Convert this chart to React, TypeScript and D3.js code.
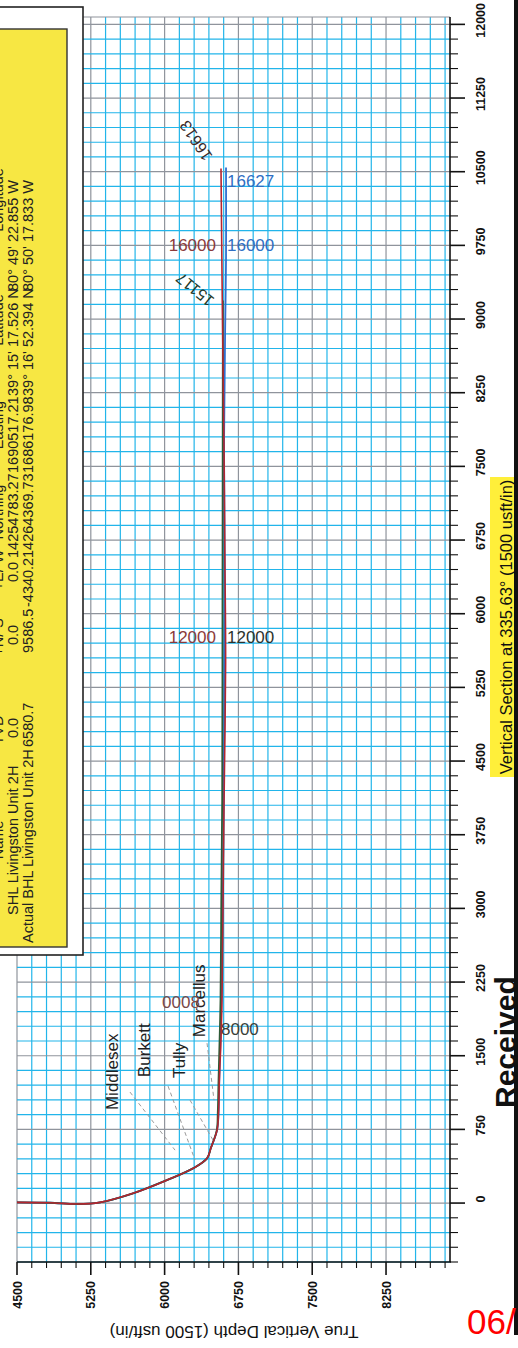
import React from "react";
import * as d3 from "d3";

// axis ticks
const tvdMajor = [4500, 5250, 6000, 6750, 7500, 8250];
const vsMajor = [0, 750, 1500, 2250, 3000, 3750, 4500, 5250, 6000, 6750, 7500, 8250, 9000, 9750, 10500, 11250, 12000];

// wellbore paths (TVD, vertical section)
const actualTvd = [4500, 4835, 5110, 5344, 5679, 6024, 6289, 6431, 6470, 6533, 6548, 6556, 6570, 6583, 6594, 6604, 6620, 6612, 6604, 6586, 6573];
const actualVs = [7, 3, -10, 7, 99, 234, 353, 455, 560, 743, 916, 1252, 1587, 2066, 3083, 4100, 5500, 6600, 7663, 9189, 10532];
const surveyTvd = [6530, 6540, 6548, 6568, 6576, 6585, 6588, 6590, 6592];
const surveyVs = [743, 916, 1252, 2066, 3083, 4100, 6053, 7663, 9189];
const planTvd = [6578, 6600, 6612, 6604, 6615, 6624, 6624];
const planVs = [2066, 4100, 6136, 7663, 8884, 9600, 10542];

// measured depth labels
const mdText = ["16627", "16000", "16000", "12000", "12000", "8000", "0008"];
const mdTvd = [6634, 6634, 6522, 6522, 6634, 6573, 5974];
const mdVs = [10349, 9688, 9688, 5699, 5699, 1710, 1984];
const mdSide = ["start", "start", "end", "end", "start", "start", "start"];
const mdColor = ["#2f6fc4", "#2f6fc4", "#8c3b3b", "#8c3b3b", "#2d332d", "#3a3f3a", "#7a4848"];

const endText = ["16613", "15117"];
const endTvd = [6319, 6309];
const endVs = [10817, 9301];
const endAngle = [-124, -141];

// formations
const formations = ["Middlesex", "Burkett", "Tully", "Marcellus"];
const formTvd = [5526, 5852, 6207, 6411];
const formVs = [947, 1282, 1272, 1689];
const formLines = [
  [5648, 1130, 6106, 539],
  [6035, 1191, 6309, 438],
  [6258, 1048, 6492, 641],
  [6431, 1628, 6502, 1048],
];

// legend table
const legendHeaders = ["Name", "TVD", "+N/-S", "+E/-W", "Northing", "Easting", "Latitude", "Longitude"];
const legendRows = [
  ["SHL Livingston Unit 2H", "0.0", "0.0", "0.0", "14254783.27", "1690517.21", "39° 15' 17.526 N", "80° 49' 22.855 W"],
  ["Actual BHL Livingston Unit 2H", "6580.7", "9586.5", "-4340.2", "14264369.73", "1686176.98", "39° 16' 52.394 N", "80° 50' 17.833 W"],
];

const headerPos = [840, 730, 637, 570, 512, 425, 320, 200];
const rowPos = [
  [915, 738, 645, 582, 558, 473, 396, 291],
  [943, 747, 653, 607, 558, 473, 396, 291],
];
const rowX = [18, 33];

const FONT = "'Liberation Sans', Arial, Helvetica, sans-serif";

function App() {
  const x = d3.scaleLinear().domain([4500, 8900]).range([17, 450]);
  const y = d3.scaleLinear().domain([-600, 12075]).range([1262, 17]);

  const line = d3
    .line<[number, number]>()
    .x((d) => x(d[0]))
    .y((d) => y(d[1]))
    .curve(d3.curveCatmullRom.alpha(0.5));

  const actual = d3.zip(actualTvd, actualVs) as [number, number][];
  const survey = [...actual.slice(0, 9), ...(d3.zip(surveyTvd, surveyVs) as [number, number][])];
  const plan = [...actual.slice(0, 12), ...(d3.zip(planTvd, planVs) as [number, number][])];

  const gridX = d3.range(4500, 8901, 150);
  const gridY = d3.range(-600, 12076, 150);
  const minorX = d3.range(4500, 8901, 150);
  const minorY = d3.range(-600, 12001, 150);

  const [x0, x1] = x.range();
  const [yb, yt] = y.range();

  return (
    <svg
      width={518}
      height={1348}
      style={{ position: "absolute", left: 0, top: 0, display: "block" }}
      fontFamily={FONT}
    >
      <rect width={518} height={1348} fill="#ffffff" />

      {/* grid */}
      <g>
        {gridX.map((v) => (
          <line
            key={"gx" + v}
            x1={x(v)}
            x2={x(v)}
            y1={yt}
            y2={yb}
            stroke={v % 750 === 0 ? "#8f949c" : "#22b5ea"}
            strokeWidth={1.2}
          />
        ))}
        {gridY.map((v) => (
          <line
            key={"gy" + v}
            x1={x0}
            x2={x1}
            y1={y(v)}
            y2={y(v)}
            stroke={v % 750 === 0 ? "#8f949c" : "#22b5ea"}
            strokeWidth={1.2}
          />
        ))}
        <line x1={x0} x2={x1} y1={yt} y2={yt} stroke="#8f949c" strokeWidth={1.2} />
      </g>

      {/* axes */}
      <line x1={x0} x2={x1 + 1} y1={yb} y2={yb} stroke="#111" strokeWidth={1.6} />
      <line x1={x1} x2={x1} y1={yt} y2={yb} stroke="#111" strokeWidth={1.6} />
      {minorX.map((v) => (
        <line
          key={"tx" + v}
          x1={x(v)}
          x2={x(v)}
          y1={yb}
          y2={yb + (v % 750 === 0 && v <= 8250 ? 13 : 6)}
          stroke="#111"
          strokeWidth={v % 750 === 0 ? 1.6 : 1.1}
        />
      ))}
      {minorY.map((v) => (
        <line
          key={"ty" + v}
          x1={x1}
          x2={x1 + (v % 750 === 0 && v >= 0 ? 15 : 8)}
          y1={y(v)}
          y2={y(v)}
          stroke="#111"
          strokeWidth={v % 750 === 0 ? 1.6 : 1.1}
        />
      ))}
      {tvdMajor.map((v) => (
        <text
          key={"lx" + v}
          transform={`translate(${x(v) + 4.5},${yb + 19}) rotate(-90)`}
          textAnchor="end"
          fontSize={12.5}
          fontWeight="bold"
          fill="#111"
        >
          {v}
        </text>
      ))}
      {vsMajor.map((v) => (
        <text
          key={"ly" + v}
          transform={`translate(485,${y(v) - 4}) rotate(-90)`}
          textAnchor="middle"
          fontSize={12.5}
          fontWeight="bold"
          fill="#111"
        >
          {v}
        </text>
      ))}

      {/* formation tops */}
      {formLines.map((d, i) => (
        <line
          key={"fl" + i}
          x1={x(d[0])}
          y1={y(d[1])}
          x2={x(d[2])}
          y2={y(d[3])}
          stroke="#9a9a9a"
          strokeWidth={1}
          strokeDasharray="4 3"
        />
      ))}
      {formations.map((f, i) => (
        <text
          key={f}
          transform={`translate(${x(formTvd[i])},${y(formVs[i])}) rotate(-90)`}
          fontSize={17}
          fill="#222"
        >
          {f}
        </text>
      ))}

      {/* wellbore */}
      <path d={line(plan) || ""} fill="none" stroke="#2f6fd0" strokeWidth={1.8} />
      <path d={line(survey) || ""} fill="none" stroke="#2e5a36" strokeWidth={1.8} />
      <path d={line(actual) || ""} fill="none" stroke="#b3262f" strokeWidth={1.6} />

      {mdText.map((t, i) => (
        <text
          key={"md" + i}
          x={x(mdTvd[i])}
          y={y(mdVs[i])}
          textAnchor={mdSide[i]}
          fontSize={17}
          fill={mdColor[i]}
        >
          {t}
        </text>
      ))}
      {endText.map((t, i) => (
        <text
          key={"end" + i}
          transform={`translate(${x(endTvd[i])},${y(endVs[i])}) rotate(${endAngle[i]})`}
          textAnchor="middle"
          dominantBaseline="central"
          fontSize={16}
          fill={i === 0 ? "#3a2a2a" : "#1f3a2a"}
        >
          {t}
        </text>
      ))}

      {/* legend */}
      <rect x={-2} y={7} width={85} height={948} fill="#ffffff" stroke="#222" strokeWidth={1.6} />
      <rect x={-2} y={29} width={69} height={918} fill="#f7e743" stroke="#333" strokeWidth={1.4} />
      {legendHeaders.map((h, i) => (
        <text
          key={"h" + i}
          transform={`translate(3,${headerPos[i]}) rotate(-90)`}
          textAnchor="middle"
          fontSize={14.5}
          fill="#222"
        >
          {h}
        </text>
      ))}
      {legendRows.map((row, r) =>
        row.map((c, i) => (
          <text
            key={"c" + r + i}
            transform={`translate(${rowX[r]},${rowPos[r][i]}) rotate(-90)`}
            fontSize={14.5}
            fill="#222"
          >
            {c}
          </text>
        ))
      )}

      {/* titles */}
      <text transform={`translate(234,1326) rotate(180)`} textAnchor="middle" fontSize={17} fill="#111">
        True Vertical Depth (1500 usft/in)
      </text>
      <rect x={490} y={477} width={28} height={300} fill="#ffef3a" />
      <text transform={`translate(512,627) rotate(-90)`} textAnchor="middle" fontSize={16.5} fill="#111">
        Vertical Section at 335.63° (1500 usft/in)
      </text>
      <text transform={`translate(516,1108) rotate(-90)`} fontSize={30} fontWeight="bold" fill="#111">
        Received
      </text>
      <rect x={514} y={0} width={4} height={1335} fill="#111" />
      <text x={467} y={1334} fontSize={35} fill="#ff0000">
        06/
      </text>
    </svg>
  );
}

export default App;
